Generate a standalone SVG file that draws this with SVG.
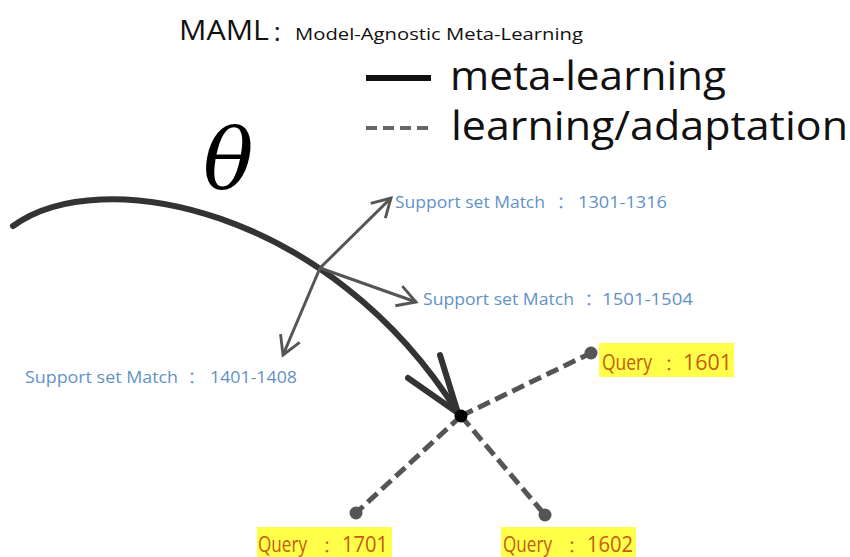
<svg xmlns="http://www.w3.org/2000/svg" width="850" height="557" viewBox="0 0 850 557">
<style>
.sans{font-family:"Open Sans","Noto Sans CJK SC",sans-serif;}
.sup{font-size:16px;fill:#5f91c7;}
.qry{font-size:22px;fill:#c55a11;}
.qc{font-size:16px;}
.hl{fill:#ffff4a;}
.meta{fill:none;stroke:#333;stroke-width:6;stroke-linecap:round;}
.supc{fill:none;stroke:#555;stroke-width:3;}
.dash{fill:none;stroke:#555;stroke-width:5;stroke-dasharray:13 6;}
</style>
<defs>
<marker id="supV" viewBox="0 0 20 20" refX="18" refY="10" markerWidth="26" markerHeight="26" markerUnits="userSpaceOnUse" orient="auto">
<path d="M4,2 L18,10 L4,18" fill="none" stroke="#555" stroke-width="2.2"/>
</marker>
</defs>
<rect width="850" height="557" fill="#fff"/>
<g id="title">
<text class="sans" y="40" fill="#111"><tspan x="179" font-size="27" textLength="90" lengthAdjust="spacingAndGlyphs">MAML</tspan><tspan x="272" font-size="21">：</tspan><tspan x="295" font-size="17" textLength="288" lengthAdjust="spacingAndGlyphs">Model-Agnostic Meta-Learning</tspan></text>
</g>
<g id="legend">
<line x1="366" y1="78" x2="431" y2="78" stroke="#111" stroke-width="6"/>
<text class="sans" x="450" y="90" font-size="40" fill="#111" textLength="276" lengthAdjust="spacingAndGlyphs">meta-learning</text>
<line x1="366" y1="128" x2="431" y2="128" stroke="#666" stroke-width="4" stroke-dasharray="11 6"/>
<text class="sans" x="451" y="140" font-size="40" fill="#111" textLength="397" lengthAdjust="spacingAndGlyphs">learning/adaptation</text>
</g>
<g id="theta">
<text x="203" y="188" font-family="'DejaVu Serif','Liberation Serif',serif" font-style="italic" font-size="84" fill="#000">θ</text>
</g>
<g id="connectors">
<path class="meta" d="M13,226 C100,162 330,208 458,413"/>
<path class="meta" d="M440,355 L458,413 L408,378"/>
<line class="supc" x1="320" y1="268" x2="391" y2="198" marker-end="url(#supV)"/>
<line class="supc" x1="320" y1="268" x2="416" y2="302" marker-end="url(#supV)"/>
<line class="supc" x1="320" y1="268" x2="283" y2="355" marker-end="url(#supV)"/>
<line class="dash" x1="461" y1="416" x2="591" y2="353"/>
<line class="dash" x1="461" y1="416" x2="545" y2="515"/>
<line class="dash" x1="461" y1="416" x2="356" y2="513"/>
</g>
<g id="center"><circle cx="461" cy="416" r="6.5" fill="#000"/></g>
<g id="support-1301">
<text class="sans sup" y="208"><tspan x="395" textLength="150" lengthAdjust="spacingAndGlyphs">Support set Match</tspan><tspan x="557">：</tspan><tspan x="578" textLength="89" lengthAdjust="spacingAndGlyphs">1301-1316</tspan></text>
</g>
<g id="support-1501">
<text class="sans sup" y="305"><tspan x="423" textLength="151" lengthAdjust="spacingAndGlyphs">Support set Match</tspan><tspan x="585">：</tspan><tspan x="602" textLength="91" lengthAdjust="spacingAndGlyphs">1501-1504</tspan></text>
</g>
<g id="support-1401">
<text class="sans sup" y="383"><tspan x="25" textLength="153" lengthAdjust="spacingAndGlyphs">Support set Match</tspan><tspan x="188">：</tspan><tspan x="210" textLength="87" lengthAdjust="spacingAndGlyphs">1401-1408</tspan></text>
</g>
<g id="query-1601">
<circle cx="591" cy="353" r="6.5" fill="#555"/>
<rect class="hl" x="599" y="343" width="135" height="34"/>
<text class="sans qry" y="370"><tspan x="602" textLength="50" lengthAdjust="spacingAndGlyphs">Query</tspan><tspan class="qc" x="665">：</tspan><tspan x="683" textLength="49" lengthAdjust="spacingAndGlyphs">1601</tspan></text>
</g>
<g id="query-1602">
<circle cx="545" cy="515" r="6.5" fill="#555"/>
<rect class="hl" x="501" y="527" width="135" height="30"/>
<text class="sans qry" y="552"><tspan x="503" textLength="49" lengthAdjust="spacingAndGlyphs">Query</tspan><tspan class="qc" x="568">：</tspan><tspan x="587" textLength="46" lengthAdjust="spacingAndGlyphs">1602</tspan></text>
</g>
<g id="query-1701">
<circle cx="356" cy="513" r="6.5" fill="#555"/>
<rect class="hl" x="257" y="527" width="135" height="30"/>
<text class="sans qry" y="552"><tspan x="258" textLength="49" lengthAdjust="spacingAndGlyphs">Query</tspan><tspan class="qc" x="323">：</tspan><tspan x="342" textLength="46" lengthAdjust="spacingAndGlyphs">1701</tspan></text>
</g>
</svg>
